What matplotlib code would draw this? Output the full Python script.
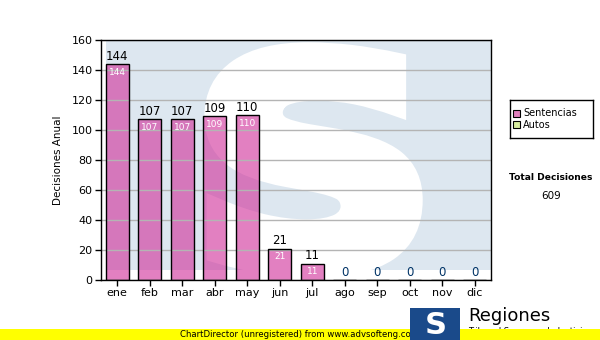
import matplotlib
matplotlib.use("Agg")
import matplotlib.pyplot as plt
from matplotlib.patches import Rectangle, PathPatch
from matplotlib.textpath import TextPath
from matplotlib.font_manager import FontProperties
from matplotlib.transforms import Affine2D
import numpy as np

# data
months = ["ene", "feb", "mar", "abr", "may", "jun", "jul", "ago", "sep", "oct", "nov", "dic"]
sentencias = [144, 107, 107, 109, 110, 21, 11, 0, 0, 0, 0, 0]
autos = [0, 0, 0, 0, 0, 0, 0, 0, 0, 0, 0, 0]
y_ticks = [0, 20, 40, 60, 80, 100, 120, 140, 160]

BAR_COLOR = "#d02c98"
AUTOS_COLOR = "#d8eea0"
BG_BLUE = "#dde7f0"

W, H = 600, 340
fig = plt.figure(figsize=(W / 100, H / 100), dpi=100)
fig.patch.set_facecolor("white")

ax = fig.add_axes([101 / W, 60 / H, 390 / W, 240 / H])
ax.set_facecolor("white")


def big_s(ax, box, lw):
    """White 'S' watermark stretched to fill box (axes coords)."""
    tp = TextPath((0, 0), "S", size=1, prop=FontProperties(family="DejaVu Sans", weight="bold"))
    ext = tp.get_extents()
    x0, y0, x1, y1 = box
    tr = (Affine2D().translate(-ext.x0, -ext.y0)
          .scale((x1 - x0) / ext.width, (y1 - y0) / ext.height)
          .translate(x0, y0))
    path = tr.transform_path(tp)
    ax.add_patch(PathPatch(path, transform=ax.transAxes, facecolor="white",
                           edgecolor="white", linewidth=lw, zorder=0.5, clip_on=True))


# watermark: light blue square with a big white S
ax.add_patch(Rectangle((0.012, 0.04), 0.99, 0.97, transform=ax.transAxes,
                       facecolor=BG_BLUE, edgecolor="none", zorder=0, clip_on=True))
big_s(ax, (0.29, 0.05, 0.80, 0.95), 14)

x = np.arange(len(months))
ax.set_xlim(-0.5, len(months) - 0.5)
ax.set_ylim(0, 160)
ax.set_yticks(y_ticks)
ax.yaxis.grid(True, color="#b4b4b4", linewidth=1, zorder=1)
ax.set_axisbelow(False)

ax.bar(x, sentencias, width=0.7, color=BAR_COLOR, alpha=0.6,
       edgecolor="none", zorder=2)
ax.bar(x, sentencias, width=0.7, facecolor="none", edgecolor="black",
       linewidth=1, zorder=3)

for xi, v in zip(x, sentencias):
    if v > 0:
        ax.text(xi, v + 0.8, str(v), ha="center", va="bottom", fontsize=8.5,
                color="black", zorder=4)
        ax.text(xi, v - 2.5, str(v), ha="center", va="top", fontsize=6.5,
                color="white", zorder=4)
    else:
        ax.text(xi, v + 0.8, str(v), ha="center", va="bottom", fontsize=8.5,
                color="#003366", zorder=4)

ax.set_xticks(x)
ax.set_xticklabels(months)
ax.tick_params(axis="both", direction="out", length=4, width=1, labelsize=8,
               colors="black", pad=2)
ax.set_ylabel("Decisiones Anual", fontsize=7.5, labelpad=6)
for s in ax.spines.values():
    s.set_linewidth(1)
    s.set_zorder(5)

# legend box
lax = fig.add_axes([510 / W, 1 - 138 / H, 83 / W, 38 / H])
lax.set_xlim(0, 83)
lax.set_ylim(38, 0)
lax.set_xticks([])
lax.set_yticks([])
for s in lax.spines.values():
    s.set_linewidth(1)
lax.add_patch(Rectangle((3, 10), 7, 7, facecolor="#e080bd", edgecolor="black", lw=0.8))
lax.text(13, 13.5, "Sentencias", fontsize=7, va="center")
lax.add_patch(Rectangle((3, 21), 7, 7, facecolor=AUTOS_COLOR, edgecolor="black", lw=0.8))
lax.text(13, 24.5, "Autos", fontsize=7, va="center")

fig.text(551 / W, 1 - 178 / H, "Total Decisiones", fontsize=6.6, fontweight="bold",
         ha="center", va="center")
fig.text(551 / W, 1 - 196 / H, str(sum(sentencias) + sum(autos)), fontsize=7.5,
         ha="center", va="center")

# footer: yellow band and logo
fig.text(468 / W, 9 / H, "Tribunal Supremo de Justicia", fontsize=6, ha="left",
         va="center", zorder=0)
fig.patches.append(Rectangle((0, 0), 1, 11 / H, transform=fig.transFigure,
                             facecolor="#ffff00", edgecolor="none", zorder=1))
fig.text(300 / W, 5.5 / H, "ChartDirector (unregistered) from www.advsofteng.com",
         fontsize=6.1, ha="center", va="center", zorder=2)
fig.patches.append(Rectangle((410 / W, 0), 50 / W, 32 / H, transform=fig.transFigure,
                             facecolor="#1a4a8a", edgecolor="none", zorder=3))
fig.text(436 / W, 15 / H, "S", fontsize=22, fontweight="bold", color="white",
         ha="center", va="center", zorder=4)
fig.text(468 / W, 24 / H, "Regiones", fontsize=13, ha="left", va="center", zorder=4)

fig.savefig("out.png", dpi=100)
